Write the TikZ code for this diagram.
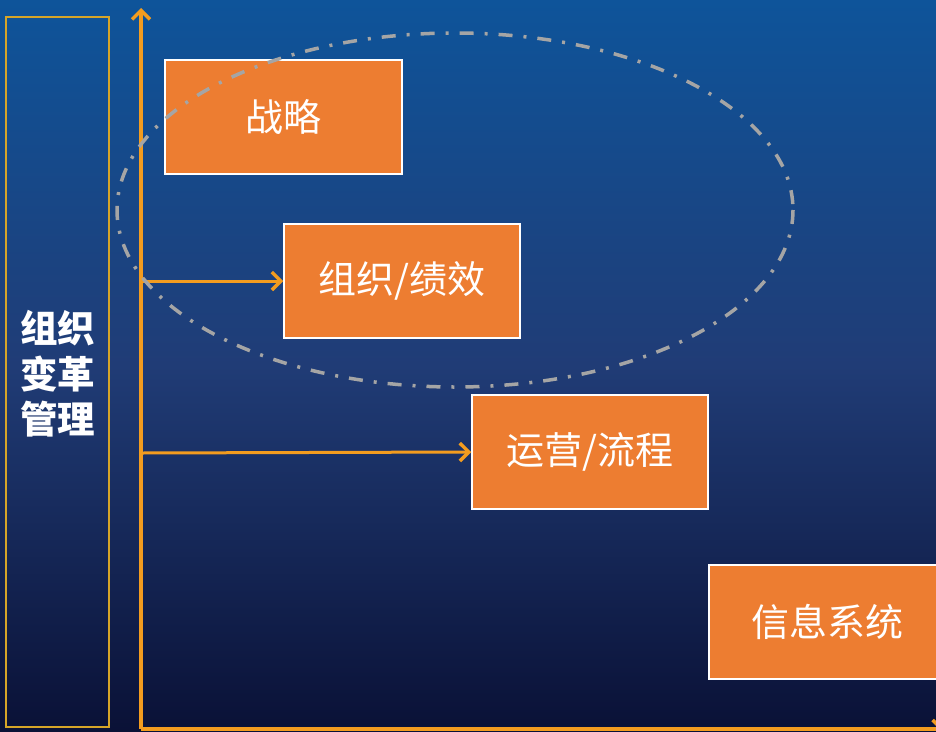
\documentclass[tikz,border=0pt]{standalone}
\usepackage{fontspec}
\setmainfont{Noto Sans CJK SC}
\usetikzlibrary{arrows.meta}
\definecolor{bgtop}{RGB}{14,84,154}
\definecolor{bgmid}{RGB}{32,60,118}
\definecolor{bgbot}{RGB}{10,17,54}
\definecolor{boxorange}{RGB}{237,125,49}
\definecolor{axisorange}{RGB}{243,156,31}
\definecolor{gold}{RGB}{214,165,40}
\definecolor{ellgray}{RGB}{165,165,165}
\tikzset{
  stagebox/.style={draw=white, line width=1.5pt, fill=boxorange, minimum width=236pt, minimum height=114pt, inner sep=0pt, text=white, font=\fontsize{38}{44}\selectfont},
  tip/.style={-{Straight Barb[length=9pt, width=18pt, line width=3.5pt]}},
  axisline/.style={draw=axisorange, line width=3.5pt, tip},
  feedarrow/.style={draw=axisorange, line width=3pt, tip},
}
\begin{document}
\begin{tikzpicture}[x=1pt, y={(0pt,-1pt)}]
\useasboundingbox (0,0) rectangle (936,731);
\clip (0,0) rectangle (936,731);
\shade[top color=bgtop, bottom color=bgbot, middle color=bgmid] (0,0) rectangle (936,731);
% left band
\node[draw=gold, line width=1.5pt, minimum width=103pt, minimum height=710pt, inner sep=0pt] (band) at (57.5,372) {};
\node[text=white, font=\fontsize{37.5}{45.5}\selectfont\bfseries, align=center] (bandtext) at (57.5,374) {组织\\变革\\管理};
% axes
\coordinate (origin) at (141,729);
\coordinate (ytop) at (141,8);
\coordinate (xend) at (944,729);
\draw[axisline] (origin) -- (ytop);
\draw[axisline] (origin) -- (xend);
% boxes
\node[stagebox, minimum width=237pt] (s1) at (283.5,117) {战略};
\node[stagebox] (s2) at (402,281) {组织/绩效};
\node[stagebox] (s3) at (590,452) {运营/流程};
\node[stagebox] (s4) at (827,622) {信息系统};
% arrows
\coordinate (a1) at (141,281);
\coordinate (a2) at (141,453);
\draw[feedarrow] (a1) -- (s2.west);
\draw[feedarrow] (a2) -- (s3.west);
% ellipse
\draw[ellgray, line width=3.5pt, dash pattern=on 14pt off 11pt on 3pt off 11pt] (455,210) ellipse [x radius=338, y radius=177];
\end{tikzpicture}
\end{document}
